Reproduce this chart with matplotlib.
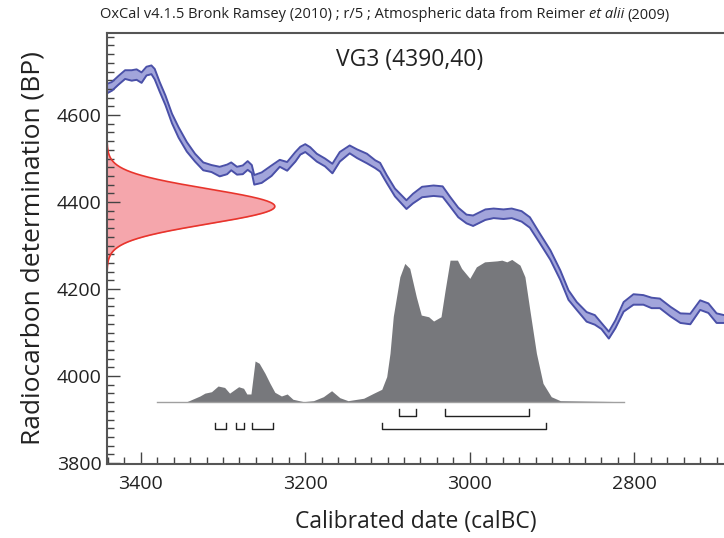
import matplotlib
matplotlib.use('Agg')
import matplotlib.pyplot as plt
import numpy as np
from matplotlib.ticker import MultipleLocator

plt.rcParams['font.family'] = ['Open Sans', 'DejaVu Sans']

# calibration curve (IntCal09): calBC, BP, 1 sigma
curve_year = [3443, 3435, 3427, 3419, 3411, 3405, 3399, 3393, 3387, 3383, 3377, 3370,
              3362, 3354, 3344, 3334, 3324, 3314, 3304, 3295, 3290, 3283, 3276, 3270,
              3265, 3262, 3253, 3241, 3231, 3222, 3212, 3206, 3200, 3194, 3186, 3176,
              3167, 3158, 3146, 3137, 3125, 3115, 3109, 3101, 3091, 3077, 3069, 3058,
              3044, 3033, 3024, 3014, 3004, 2996, 2981, 2971, 2959, 2949, 2937, 2927,
              2915, 2902, 2890, 2880, 2870, 2858, 2848, 2840, 2831, 2823, 2813, 2801,
              2789, 2779, 2769, 2756, 2744, 2732, 2720, 2710, 2700, 2691]
curve_bp = [4659, 4666, 4680, 4693, 4691, 4693, 4686, 4701, 4704, 4694, 4665, 4634,
            4592, 4560, 4527, 4502, 4482, 4477, 4470, 4475, 4482, 4472, 4474, 4484,
            4476, 4451, 4456, 4472, 4489, 4482, 4504, 4518, 4524, 4516, 4502, 4491,
            4477, 4504, 4521, 4511, 4500, 4487, 4480, 4453, 4422, 4394, 4408, 4423,
            4426, 4424, 4401, 4376, 4361, 4357, 4371, 4374, 4372, 4374, 4367, 4353,
            4317, 4278, 4232, 4186, 4161, 4136, 4129, 4115, 4094, 4119, 4159, 4176,
            4175, 4168, 4167, 4148, 4133, 4131, 4163, 4156, 4133, 4131]
curve_sigma = [11, 10, 10, 10, 12, 12, 12, 10, 10, 12, 11, 11,
               11, 12, 11, 9, 9, 8, 11, 11, 9, 9, 10, 10,
               9, 11, 12, 12, 8, 10, 11, 9, 9, 10, 9, 9,
               11, 11, 9, 10, 11, 9, 10, 9, 9, 10, 11, 12,
               12, 12, 11, 11, 10, 12, 12, 11, 11, 11, 12, 12,
               11, 11, 11, 11, 9, 11, 11, 7, 8, 9, 11, 12,
               11, 12, 11, 11, 11, 12, 11, 11, 11, 9]

# radiocarbon date
c14_mean = 4390
c14_err = 40

# calibrated probability (relative)
post_year = [3380, 3344, 3328, 3322, 3314, 3306, 3298, 3292, 3281, 3275, 3271, 3266,
             3261, 3256, 3249, 3243, 3237, 3229, 3222, 3215, 3202, 3190, 3178, 3168,
             3158, 3148, 3129, 3117, 3107, 3101, 3097, 3093, 3085, 3079, 3073, 3065,
             3059, 3050, 3044, 3035, 3030, 3024, 3015, 3010, 3000, 2992, 2982, 2967,
             2961, 2955, 2949, 2939, 2933, 2927, 2919, 2911, 2901, 2890, 2812]
post_prob = [0, 0, 0.04, 0.06, 0.07, 0.11, 0.10, 0.06, 0.105, 0.094, 0.054, 0.054,
             0.286, 0.27, 0.20, 0.13, 0.066, 0.04, 0.054, 0.017, 0, 0.007, 0.035, 0.077,
             0.028, 0.007, 0.024, 0.059, 0.087, 0.176, 0.34, 0.60, 0.878, 0.972, 0.937, 0.737,
             0.609, 0.597, 0.567, 0.597, 0.784, 0.995, 0.995, 0.937, 0.867, 0.948, 0.983, 0.99,
             0.995, 0.983, 1.0, 0.96, 0.878, 0.644, 0.34, 0.129, 0.035, 0.007, 0]

# highest posterior density ranges (calBC)
range68 = [(3086, 3066), (3030, 2928)]
range95 = [(3310, 3296), (3284, 3275), (3265, 3239), (3107, 2907)]

fig = plt.figure(figsize=(7.24, 5.38), dpi=100)
ax = fig.add_axes([107 / 724, 1 - 464 / 538, 617 / 724, 431 / 538])

# calibration curve band
cy = np.array(curve_bp)
cs = np.array(curve_sigma)
ax.fill_between(curve_year, cy - cs, cy + cs, color='#a2a5db', lw=0)
ax.plot(curve_year, cy + cs, color='#4a50a8', lw=1.4)
ax.plot(curve_year, cy - cs, color='#4a50a8', lw=1.4)

# radiocarbon measurement (gaussian on the y axis)
x0 = 3441
yy = np.linspace(c14_mean - 3.7 * c14_err, c14_mean + 3.7 * c14_err, 300)
pdf = np.exp(-0.5 * ((yy - c14_mean) / c14_err) ** 2)
ax.fill_betweenx(yy, x0, x0 - pdf * 204, color='#f5a6ac', lw=0)
ax.plot(x0 - pdf * 204, yy, color='#e8342c', lw=1.2)

# calibrated distribution
base = 3941
scale = 327
ax.fill_between(post_year, base, base + np.array(post_prob) * scale, color='#77787c', lw=0)
ax.plot([post_year[0], post_year[-1]], [base, base], color='#a0a0a0', lw=1.0)

# range brackets
def bracket(lo_hi, top, bot):
    a, b = lo_hi
    ax.plot([a, a, b, b], [top, bot, bot, top], color='#222222', lw=1.0)

for r in range68:
    bracket(r, 3924, 3908)
for r in range95:
    bracket(r, 3893, 3878)

ax.set_xlim(x0, 2691)
ax.set_ylim(3797.7, 4788.6)

ax.xaxis.set_major_locator(MultipleLocator(200))
ax.xaxis.set_minor_locator(MultipleLocator(20))
ax.yaxis.set_major_locator(MultipleLocator(200))
ax.yaxis.set_minor_locator(MultipleLocator(20))
ax.tick_params(which='both', direction='in', color='#444444', width=1.0,
               top=False, right=False, labelsize=14, labelcolor='#222222')
ax.tick_params(which='major', length=9)
ax.tick_params(which='minor', length=5)
ax.tick_params(axis='y', pad=4)
ax.tick_params(axis='x', pad=8)

for side in ['left', 'top', 'bottom']:
    ax.spines[side].set_color('#555555')
    ax.spines[side].set_linewidth(1.5)
ax.spines['right'].set_visible(False)

ax.set_xlabel('Calibrated date (calBC)', fontsize=16.5, color='#222222', labelpad=12)
ax.set_ylabel('Radiocarbon determination (BP)', fontsize=19, color='#222222', labelpad=8)

ax.text(0.491, 0.937, 'VG3 (4390,40)', transform=ax.transAxes, fontsize=16.5,
        ha='center', va='center', color='#222222')

# header line with italic "et alii"
fig.canvas.draw()
rend = fig.canvas.get_renderer()
parts = [('OxCal v4.1.5 Bronk Ramsey (2010) ; r/5 ; Atmospheric data from Reimer', 'normal'),
         ('et alii', 'italic'), ('(2009)', 'normal')]
hsize = 10.5
texts = [fig.text(0, 0, s, fontsize=hsize, style=st, color='#222222', va='center')
         for s, st in parts]
sp = fig.text(0, 0, 'a a', fontsize=hsize)
sp2 = fig.text(0, 0, 'aa', fontsize=hsize)
gap = sp.get_window_extent(rend).width - sp2.get_window_extent(rend).width
sp.remove()
sp2.remove()
widths = [t.get_window_extent(rend).width for t in texts]
total = sum(widths) + gap * (len(widths) - 1)
xpix = 385 - total / 2
for t, w in zip(texts, widths):
    t.set_position((xpix / 724, 1 - 15 / 538))
    xpix += w + gap

fig.savefig('out.png', dpi=100)
